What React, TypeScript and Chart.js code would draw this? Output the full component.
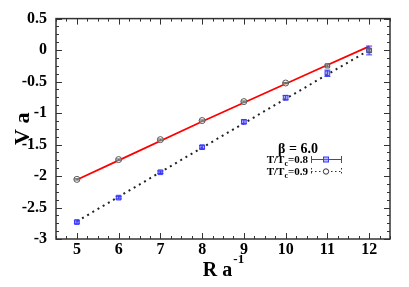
import React, { useEffect, useRef } from "react";
import { Chart, registerables } from "chart.js";

Chart.register(...registerables);

const R = [5, 6, 7, 8, 9, 10, 11, 12];
const V09 = [-2.053, -1.739, -1.422, -1.119, -0.818, -0.523, -0.25, -0.006];
const V08 = [-2.731, -2.343, -1.94, -1.542, -1.139, -0.756, -0.368, -0.006];
const ERR08 = [0.02, 0.02, 0.02, 0.025, 0.03, 0.035, 0.05, 0.07];
const ERR09 = [0.01, 0.01, 0.01, 0.01, 0.01, 0.01, 0.015, 0.02];
const FIT_R = [5, 8, 12];
const FIT09 = [-2.06, -1.135, 0.06];
const FIT08 = [-2.72, -1.55, 0.0];
const X_TICKS = [5, 6, 7, 8, 9, 10, 11, 12];
const Y_TICKS = [0.5, 0, -0.5, -1, -1.5, -2, -2.5, -3];

const FONT = "'Liberation Serif', 'Times New Roman', serif";
const BLUE = "#3a3aff";

const framePlugin = {
  id: "frame",
  afterDatasetsDraw(chart: any) {
    const { ctx, chartArea: a, scales } = chart;
    const xs = scales.x;
    const ys = scales.y;
    ctx.save();
    const drawErr = (vals: number[], errs: number[], color: string) => {
      ctx.strokeStyle = color;
      ctx.lineWidth = 1;
      R.forEach((r, i) => {
        const px = xs.getPixelForValue(r);
        const y1 = ys.getPixelForValue(vals[i] + errs[i]);
        const y2 = ys.getPixelForValue(vals[i] - errs[i]);
        ctx.beginPath();
        ctx.moveTo(px, y1);
        ctx.lineTo(px, y2);
        ctx.moveTo(px - 3, y1);
        ctx.lineTo(px + 3, y1);
        ctx.moveTo(px - 3, y2);
        ctx.lineTo(px + 3, y2);
        ctx.stroke();
      });
    };
    drawErr(V08, ERR08, BLUE);
    drawErr(V09, ERR09, "#666");

    ctx.strokeStyle = "#333";
    ctx.lineWidth = 1.5;
    ctx.strokeRect(a.left, a.top, a.right - a.left, a.bottom - a.top);
    ctx.lineWidth = 1;
    for (let v = 4.5; v <= 12.5001; v += 0.25) {
      const px = Math.round(xs.getPixelForValue(v)) + 0.5;
      const major = Math.abs(v - Math.round(v)) < 1e-6;
      const len = major ? 6 : 3;
      ctx.beginPath();
      ctx.moveTo(px, a.bottom);
      ctx.lineTo(px, a.bottom - len);
      ctx.moveTo(px, a.top);
      ctx.lineTo(px, a.top + len);
      ctx.stroke();
    }
    for (let v = -3; v <= 0.5001; v += 0.125) {
      const py = Math.round(ys.getPixelForValue(v)) + 0.5;
      const major = Math.abs(v * 2 - Math.round(v * 2)) < 1e-6;
      const len = major ? 6 : 3;
      ctx.beginPath();
      ctx.moveTo(a.left, py);
      ctx.lineTo(a.left + len, py);
      ctx.moveTo(a.right, py);
      ctx.lineTo(a.right - len, py);
      ctx.stroke();
    }

    ctx.fillStyle = "#000";
    ctx.save();
    ctx.translate(23, (a.top + a.bottom) / 2);
    ctx.rotate(-Math.PI / 2);
    ctx.font = `bold 22px ${FONT}`;
    ctx.textAlign = "center";
    ctx.textBaseline = "middle";
    ctx.fillText("V a", 0, 0);
    ctx.restore();

    ctx.font = `bold 20px ${FONT}`;
    ctx.textAlign = "left";
    ctx.textBaseline = "alphabetic";
    const main = "R a";
    const w = ctx.measureText(main).width;
    ctx.font = `bold 13px ${FONT}`;
    const sw = ctx.measureText("-1").width;
    const x0 = (a.left + a.right) / 2 - (w + sw) / 2;
    ctx.font = `bold 20px ${FONT}`;
    ctx.fillText(main, x0, 276);
    ctx.font = `bold 13px ${FONT}`;
    ctx.fillText("-1", x0 + w + 1, 263);

    ctx.font = `bold 14px ${FONT}`;
    ctx.textAlign = "center";
    ctx.fillText("β = 6.0", 298, 153);
    const legendRow = (y: number, label: string) => {
      ctx.font = `bold 11px ${FONT}`;
      ctx.textAlign = "left";
      const t1 = "T/T";
      const w1 = ctx.measureText(t1).width;
      ctx.font = `bold 8px ${FONT}`;
      const wc = ctx.measureText("c").width;
      ctx.font = `bold 11px ${FONT}`;
      const w2 = ctx.measureText(label).width;
      const total = w1 + wc + w2;
      const xs0 = 308 - total;
      ctx.fillText(t1, xs0, y + 4);
      ctx.font = `bold 8px ${FONT}`;
      ctx.fillText("c", xs0 + w1, y + 7);
      ctx.font = `bold 11px ${FONT}`;
      ctx.fillText(label, xs0 + w1 + wc, y + 4);
    };
    legendRow(159, "=0.8");
    legendRow(171, "=0.9");
    ctx.strokeStyle = BLUE;
    ctx.lineWidth = 1;
    ctx.beginPath();
    ctx.moveTo(311, 159.5);
    ctx.lineTo(342, 159.5);
    ctx.moveTo(311.5, 156);
    ctx.lineTo(311.5, 163);
    ctx.moveTo(341.5, 156);
    ctx.lineTo(341.5, 163);
    ctx.stroke();
    ctx.fillStyle = "rgba(120,120,255,0.5)";
    ctx.fillRect(323.5, 157, 5, 5);
    ctx.strokeRect(323.5, 157, 5, 5);
    ctx.strokeStyle = "#333";
    ctx.setLineDash([1.5, 2.5]);
    ctx.beginPath();
    ctx.moveTo(311, 171.5);
    ctx.lineTo(342, 171.5);
    ctx.moveTo(311.5, 168);
    ctx.lineTo(311.5, 175);
    ctx.moveTo(341.5, 168);
    ctx.lineTo(341.5, 175);
    ctx.stroke();
    ctx.setLineDash([]);
    ctx.fillStyle = "#fff";
    ctx.beginPath();
    ctx.arc(326, 171.5, 2.7, 0, Math.PI * 2);
    ctx.fill();
    ctx.stroke();
    ctx.restore();
  },
};

export default function App() {
  const ref = useRef<HTMLCanvasElement | null>(null);
  useEffect(() => {
    if (!ref.current) return;
    const chart = new Chart(ref.current, {
      type: "line",
      data: {
        datasets: [
          {
            label: "T/Tc=0.9",
            data: R.map((r, i) => ({ x: r, y: V09[i] })),
            showLine: false,
            pointStyle: R.map((r) => (r >= 11 ? "rect" : "circle")) as any,
            pointRadius: 3,
            pointBorderColor: "#555",
            pointBackgroundColor: "rgba(255,255,255,0.6)",
            pointBorderWidth: 1,
          },
          {
            label: "T/Tc=0.8",
            data: R.map((r, i) => ({ x: r, y: V08[i] })),
            showLine: false,
            pointStyle: "rect",
            pointRadius: 3.3,
            pointBorderColor: BLUE,
            pointBackgroundColor: "rgba(110,110,255,0.55)",
            pointBorderWidth: 1,
          },
          {
            label: "fit09",
            data: FIT_R.map((r, i) => ({ x: r, y: FIT09[i] })),
            borderColor: "#ff0000",
            borderWidth: 1.8,
            pointRadius: 0,
            tension: 0.4,
            cubicInterpolationMode: "monotone",
          },
          {
            label: "fit08",
            data: FIT_R.map((r, i) => ({ x: r, y: FIT08[i] })),
            borderColor: "#222",
            borderWidth: 2,
            borderDash: [2, 4],
            pointRadius: 0,
            tension: 0.4,
            cubicInterpolationMode: "monotone",
          },
        ],
      },
      options: {
        animation: false,
        responsive: false,
        maintainAspectRatio: false,
        layout: { padding: { top: 13, right: 19, left: 0, bottom: 0 } },
        plugins: { legend: { display: false }, tooltip: { enabled: false } },
        scales: {
          x: {
            type: "linear",
            min: 4.5,
            max: 12.5,
            grid: { display: false, drawTicks: false },
            border: { display: false },
            afterBuildTicks: (s: any) => {
              s.ticks = X_TICKS.map((v) => ({ value: v }));
            },
            afterFit: (s: any) => {
              s.height = 48;
            },
            ticks: {
              padding: 1,
              color: "#000",
              font: { family: FONT, size: 16, weight: "bold" },
              callback: (v: any) => String(v),
              maxRotation: 0,
              autoSkip: false,
            },
          },
          y: {
            type: "linear",
            min: -3,
            max: 0.5,
            grid: { display: false, drawTicks: false },
            border: { display: false },
            afterBuildTicks: (s: any) => {
              s.ticks = Y_TICKS.map((v) => ({ value: v }));
            },
            afterFit: (s: any) => {
              s.width = 56;
            },
            ticks: {
              padding: 9,
              color: "#000",
              font: { family: FONT, size: 16, weight: "bold" },
              callback: (v: any) => String(v),
              autoSkip: false,
            },
          },
        },
      } as any,
      plugins: [framePlugin],
    });
    return () => chart.destroy();
  }, []);
  return (
    <div style={{ position: "absolute", left: 0, top: 0, width: 409, height: 287, background: "#fff" }}>
      <canvas ref={ref} width={409} height={287} />
    </div>
  );
}
